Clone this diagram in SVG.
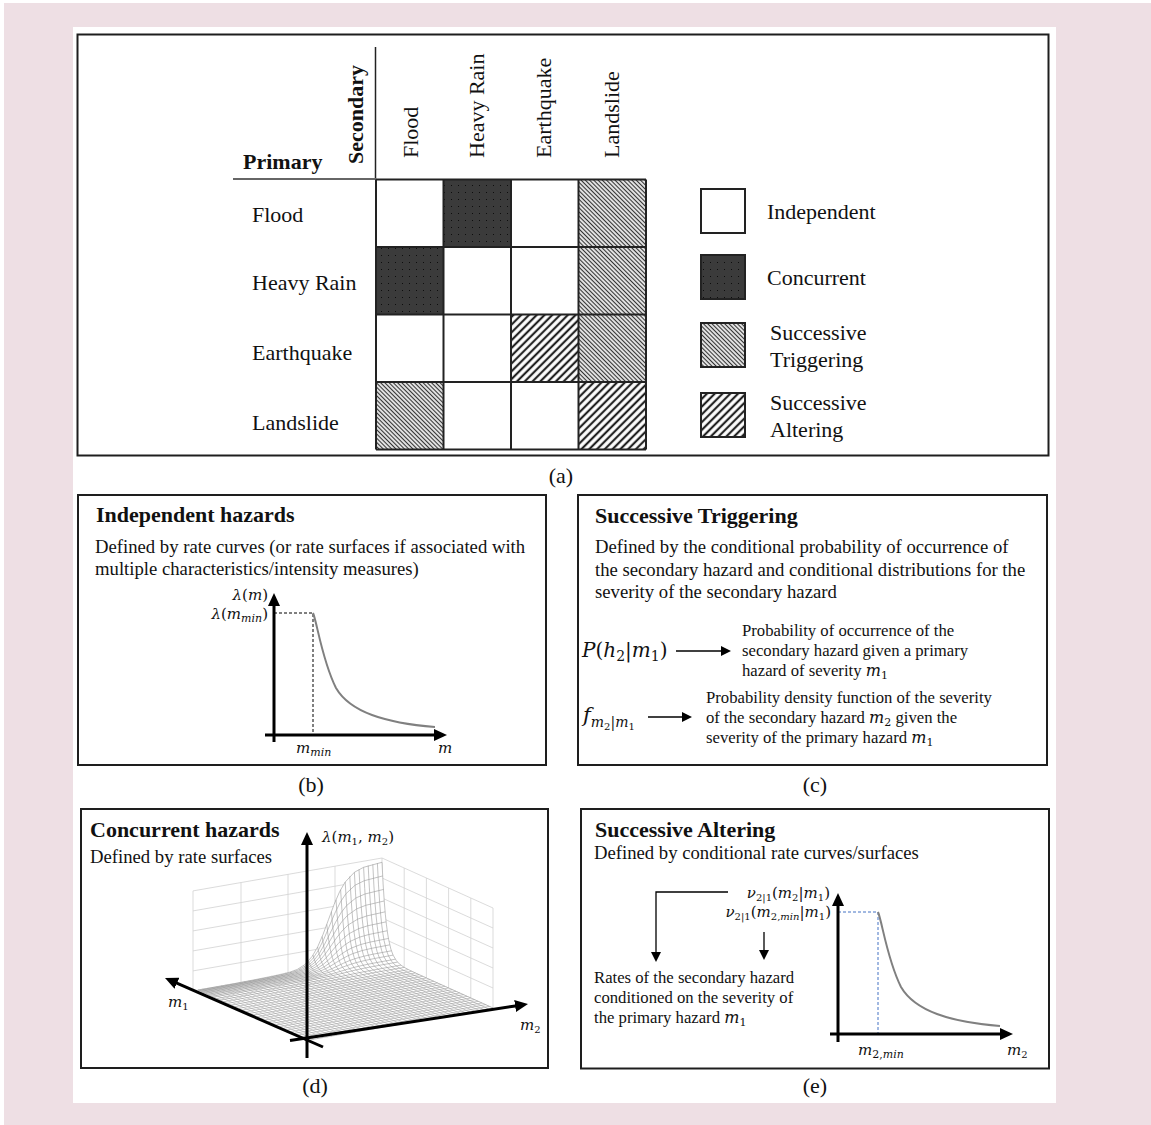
<svg xmlns="http://www.w3.org/2000/svg" width="1151" height="1125" viewBox="0 0 1151 1125">
<defs>
<style>
.t{font-family:"Liberation Serif","Times New Roman",serif;fill:#111}
.bd{font-weight:bold}
.s22{font-size:22px}
.s19{font-size:18.7px}
.s17{font-size:16.7px}
.m{font-family:"DejaVu Serif",serif;font-style:italic}
.up{font-style:normal}
.frame{fill:none;stroke:#1e1e1e;stroke-width:2}
.gl{stroke:#222;stroke-width:2;fill:none}
.ax{stroke:#000;stroke-width:3;fill:none}
.th{stroke:#000;stroke-width:1.3;fill:none}
.wall{stroke:#d2d2d2;stroke-width:0.8;fill:none}
.mesh{stroke:#9a9a9a;stroke-width:0.6;fill:none;vector-effect:non-scaling-stroke}
.fl{stroke:#a2a2a2;stroke-width:0.6;fill:none}
.crv{stroke:#808080;stroke-width:2;fill:none}
</style>
<pattern id="pCon" width="7" height="7" patternUnits="userSpaceOnUse"><rect width="7" height="7" fill="#3b3b3b"/><rect x="3" y="3" width="1" height="1" fill="#0d0d0d"/></pattern>
<pattern id="pTrig" width="3" height="3" patternUnits="userSpaceOnUse" patternTransform="rotate(-45)"><rect width="3" height="3" fill="#fff"/><line x1="1.5" y1="0" x2="1.5" y2="3" stroke="#333" stroke-width="1.3"/></pattern>
<pattern id="pAlt" width="5.5" height="5.5" patternUnits="userSpaceOnUse" patternTransform="rotate(45)"><rect width="5.5" height="5.5" fill="#fff"/><line x1="2.75" y1="0" x2="2.75" y2="5.5" stroke="#222" stroke-width="2.2"/></pattern>
<marker id="ah" markerUnits="userSpaceOnUse" markerWidth="13" markerHeight="12" refX="2" refY="6" orient="auto"><path d="M0,0 L13,6 L0,12 z" fill="#000"/></marker>
<marker id="sh" markerUnits="userSpaceOnUse" markerWidth="10" markerHeight="10" refX="1" refY="5" orient="auto"><path d="M0,0 L10,5 L0,10 z" fill="#000"/></marker>
<path id="fs" class="mesh" d="M0,99.7 L10,97.8 L15,94.3 L20,85.8 L23,76.9 L26,64.6 L29,50 L32,35.4 L35,23.1 L38,14.2 L42,7 L46,3.5 L50,2 L55,1.3 L60,0.9 L70,0.4 L80,0.1 L90,0 L100,0"/>
<path id="gt" class="mesh" d="M0,100 L1,77.9 L2,60.7 L3,47.2 L4,36.8 L5,28.7 L6,22.3 L8,13.5 L10,8.2 L13,3.9 L16,1.8 L20,0.7 L25,0.2 L30,0.05 L40,0 L100,0"/>
<path id="rc" class="crv" d="M313,613 C317,622 322,660 336,688 C350,712 385,723 435,727"/>
</defs>

<rect width="1151" height="1125" fill="#ffffff"/>
<rect x="4" y="3" width="1147" height="1122" fill="#eedfe4"/>
<rect x="73" y="27" width="983" height="1076" fill="#ffffff"/>

<!-- Panel (a) -->
<g id="panel-a">
  <rect class="frame" x="77.5" y="34.5" width="971" height="421"/>
  <line x1="375.5" y1="47" x2="375.5" y2="180" stroke="#222" stroke-width="1.5"/>
  <line x1="233" y1="179" x2="376" y2="179" stroke="#666" stroke-width="2"/>
  <text class="t bd s22" x="243" y="169">Primary</text>
  <text class="t bd s22" transform="translate(363,164) rotate(-90)">Secondary</text>
  <text class="t s22" transform="translate(418,158) rotate(-90)">Flood</text>
  <text class="t s22" transform="translate(484,158) rotate(-90)">Heavy Rain</text>
  <text class="t s22" transform="translate(551,158) rotate(-90)">Earthquake</text>
  <text class="t s22" transform="translate(619,158) rotate(-90)">Landslide</text>
  <text class="t s22" x="252" y="222">Flood</text>
  <text class="t s22" x="252" y="290">Heavy Rain</text>
  <text class="t s22" x="252" y="360">Earthquake</text>
  <text class="t s22" x="252" y="430">Landslide</text>
  <g id="matrix">
    <rect x="376" y="179.5" width="270" height="270" fill="#fff"/>
    <rect x="443.5" y="179.5" width="67.5" height="67.5" fill="url(#pCon)"/>
    <rect x="578.5" y="179.5" width="67.5" height="67.5" fill="url(#pTrig)"/>
    <rect x="376" y="247" width="67.5" height="67.5" fill="url(#pCon)"/>
    <rect x="578.5" y="247" width="67.5" height="67.5" fill="url(#pTrig)"/>
    <rect x="511" y="314.5" width="67.5" height="67.5" fill="url(#pAlt)"/>
    <rect x="578.5" y="314.5" width="67.5" height="67.5" fill="url(#pTrig)"/>
    <rect x="376" y="382" width="67.5" height="67.5" fill="url(#pTrig)"/>
    <rect x="578.5" y="382" width="67.5" height="67.5" fill="url(#pAlt)"/>
    <path class="gl" d="M376,179.5V449.5M443.5,179.5V449.5M511,179.5V449.5M578.5,179.5V449.5M646,179.5V449.5M376,179.5H646M376,247H646M376,314.5H646M376,382H646M376,449.5H646"/>
  </g>
  <g id="legend">
    <rect x="701" y="189" width="44" height="44" fill="#fff" stroke="#222" stroke-width="2"/>
    <rect x="701" y="255" width="44" height="44" fill="url(#pCon)" stroke="#222" stroke-width="2"/>
    <rect x="701" y="323" width="44" height="44" fill="url(#pTrig)" stroke="#222" stroke-width="2"/>
    <rect x="701" y="393" width="44" height="44" fill="url(#pAlt)" stroke="#222" stroke-width="2"/>
    <text class="t s22" x="767" y="219">Independent</text>
    <text class="t s22" x="767" y="285">Concurrent</text>
    <text class="t s22" x="770" y="340">Successive</text>
    <text class="t s22" x="770" y="367">Triggering</text>
    <text class="t s22" x="770" y="410">Successive</text>
    <text class="t s22" x="770" y="437">Altering</text>
  </g>
  <text class="t s22" x="561" y="483" text-anchor="middle">(a)</text>
</g>

<!-- Panel (b) -->
<g id="panel-b">
  <rect class="frame" x="78" y="495" width="468" height="270"/>
  <text class="t bd s22" x="96" y="522">Independent hazards</text>
  <text class="t s19" x="95" y="553">Defined by rate curves (or rate surfaces if associated with</text>
  <text class="t s19" x="95" y="575">multiple characteristics/intensity measures)</text>
  <path d="M274,613H313V735" fill="none" stroke="#000" stroke-width="1" stroke-dasharray="3,2"/>
  <use href="#rc"/>
  <line class="ax" x1="274" y1="742" x2="274" y2="604" marker-end="url(#ah)"/>
  <line class="ax" x1="265" y1="735" x2="436" y2="735" marker-end="url(#ah)"/>
  <text class="t m" font-size="15" x="268" y="600" text-anchor="end">λ<tspan class="up">(</tspan>m<tspan class="up">)</tspan></text>
  <text class="t m" font-size="15" x="268" y="619" text-anchor="end">λ<tspan class="up">(</tspan>m<tspan font-size="11" dy="3">min</tspan><tspan class="up" dy="-3">)</tspan></text>
  <text class="t m" font-size="15" x="296" y="753">m<tspan font-size="11" dy="3">min</tspan></text>
  <text class="t m" font-size="15" x="438" y="753">m</text>
  <text class="t s22" x="311" y="792" text-anchor="middle">(b)</text>
</g>

<!-- Panel (c) -->
<g id="panel-c">
  <rect class="frame" x="578" y="495" width="469" height="270"/>
  <text class="t bd s22" x="595" y="523">Successive Triggering</text>
  <text class="t s19" x="595" y="553">Defined by the conditional probability of occurrence of</text>
  <text class="t s19" x="595" y="576">the secondary hazard and conditional distributions for the</text>
  <text class="t s19" x="595" y="598">severity of the secondary hazard</text>
  <text class="t m" font-size="20" x="582" y="657">P<tspan class="up">(</tspan>h<tspan class="up" font-size="14" dy="4">2</tspan><tspan class="up" dy="-4">|</tspan>m<tspan class="up" font-size="14" dy="4">1</tspan><tspan class="up" dy="-4">)</tspan></text>
  <text class="t m" font-size="21" x="583" y="722">f<tspan font-size="14" dy="5">m</tspan><tspan class="up" font-size="10" dy="3">2</tspan><tspan class="up" font-size="14" dy="-3">|</tspan><tspan font-size="14">m</tspan><tspan class="up" font-size="10" dy="3">1</tspan></text>
  <text class="t s17" x="742" y="636">Probability of occurrence of the</text>
  <text class="t s17" x="742" y="656">secondary hazard given a primary</text>
  <text class="t s17" x="742" y="676">hazard of severity <tspan class="m" font-size="16">m</tspan><tspan class="m up" font-size="11" dy="3">1</tspan></text>
  <text class="t s17" x="706" y="703">Probability density function of the severity</text>
  <text class="t s17" x="706" y="723">of the secondary hazard <tspan class="m" font-size="16">m</tspan><tspan class="m up" font-size="11" dy="3">2</tspan><tspan dy="-3"> given the</tspan></text>
  <text class="t s17" x="706" y="743">severity of the primary hazard <tspan class="m" font-size="16">m</tspan><tspan class="m up" font-size="11" dy="3">1</tspan></text>
  <text class="t s22" x="815" y="792" text-anchor="middle">(c)</text>
</g>

<!-- Panel (d) -->
<g id="panel-d">
  <rect class="frame" x="81" y="809" width="467" height="259"/>
  <text class="t bd s22" x="90" y="837">Concurrent hazards</text>
  <text class="t s19" x="90" y="863">Defined by rate surfaces</text>
  <g id="walls" class="wall">
    <path d="M382,958V858M335,966.2V866.2M288,974.3V874.3M241,982.5V882.5M193,990.9V890.9M193,990.9L382,958M193,970.9L382,938M193,950.9L382,918M193,930.9L382,898M193,910.9L382,878M193,890.9L382,858"/>
    <path d="M404.2,968V868M426.4,978V878M448.6,988V888M470.8,998V898M493,1008V908M382,958L493,1008M382,938L493,988M382,918L493,968M382,898L493,948M382,878L493,928M382,858L493,908"/>
  </g>
  <path fill="#fff" d="M198,990 L216.4,986.8 L234.8,983.5 L253.2,980 L271.6,976.3 L280.8,974.4 L290,972.1 L297.4,969.3 L304.7,964.7 L312.1,956.6 L317.6,947 L323.1,934.2 L328.6,919.3 L334.2,904.3 L339.7,891.6 L345.2,882 L354.4,872.3 L363.6,867.3 L382,862.3 L383.1,883.7 L384.2,900.7 L385.3,914.2 L386.4,924.7 L387.6,932.9 L388.7,939.6 L390.9,949 L393.1,955.1 L396.4,960.8 L399.8,964.3 L404.2,967.4 L415.3,973 L493,1008 L309,1040 Z"/>
  <g id="surface">
    <path class="fl" d="M267,978l111,50M262.4,978.8l111,50M257.8,979.6l111,50M253.2,980.4l111,50M248.6,981.2l111,50M244,982l111,50M239.4,982.8l111,50M234.8,983.6l111,50M230.2,984.4l111,50M225.6,985.2l111,50M221,986l111,50M216.4,986.8l111,50M211.8,987.6l111,50M207.2,988.4l111,50M202.6,989.2l111,50M198,990l111,50"/>
    <path class="fl" d="M407.9,969.67l-184,32M411.6,971.33l-184,32M415.3,973l-184,32M419,974.67l-184,32M422.7,976.33l-184,32M426.4,978l-184,32M430.1,979.67l-184,32M433.8,981.33l-184,32M437.5,983l-184,32M441.2,984.67l-184,32M444.9,986.33l-184,32M448.6,988l-184,32M452.3,989.67l-184,32M456,991.33l-184,32M459.7,993l-184,32M463.4,994.67l-184,32M467.1,996.33l-184,32M470.8,998l-184,32M474.5,999.67l-184,32M478.2,1001.33l-184,32M481.9,1003l-184,32M485.6,1004.67l-184,32M489.3,1006.33l-184,32M493,1008l-184,32"/>
    <use href="#gt" transform="matrix(1.11 0.5 0 -0.957 382 958)"/>
    <use href="#gt" transform="matrix(1.11 0.5 0 -0.955 377.4 958.8)"/>
    <use href="#gt" transform="matrix(1.11 0.5 0 -0.952 372.8 959.6)"/>
    <use href="#gt" transform="matrix(1.11 0.5 0 -0.948 368.2 960.4)"/>
    <use href="#gt" transform="matrix(1.11 0.5 0 -0.939 363.6 961.2)"/>
    <use href="#gt" transform="matrix(1.11 0.5 0 -0.925 359 962)"/>
    <use href="#gt" transform="matrix(1.11 0.5 0 -0.905 354.4 962.8)"/>
    <use href="#gt" transform="matrix(1.11 0.5 0 -0.873 349.8 963.6)"/>
    <use href="#gt" transform="matrix(1.11 0.5 0 -0.824 345.2 964.4)"/>
    <use href="#gt" transform="matrix(1.11 0.5 0 -0.755 340.6 965.2)"/>
    <use href="#gt" transform="matrix(1.11 0.5 0 -0.662 336 966)"/>
    <use href="#gt" transform="matrix(1.11 0.5 0 -0.551 331.4 966.8)"/>
    <use href="#gt" transform="matrix(1.11 0.5 0 -0.432 326.8 967.6)"/>
    <use href="#gt" transform="matrix(1.11 0.5 0 -0.319 322.2 968.4)"/>
    <use href="#gt" transform="matrix(1.11 0.5 0 -0.222 317.6 969.2)"/>
    <use href="#gt" transform="matrix(1.11 0.5 0 -0.149 313 970)"/>
    <use href="#gt" transform="matrix(1.11 0.5 0 -0.096 308.4 970.8)"/>
    <use href="#gt" transform="matrix(1.11 0.5 0 -0.06 303.8 971.6)"/>
    <use href="#gt" transform="matrix(1.11 0.5 0 -0.037 299.2 972.4)"/>
    <use href="#gt" transform="matrix(1.11 0.5 0 -0.023 294.6 973.2)"/>
    <use href="#gt" transform="matrix(1.11 0.5 0 -0.019 290 974)"/>
    <use href="#gt" transform="matrix(1.11 0.5 0 -0.015 285.4 974.8)"/>
    <use href="#gt" transform="matrix(1.11 0.5 0 -0.012 280.8 975.6)"/>
    <use href="#gt" transform="matrix(1.11 0.5 0 -0.011 276.2 976.4)"/>
    <use href="#gt" transform="matrix(1.11 0.5 0 -0.009 271.6 977.2)"/>
    <use href="#fs" transform="matrix(-1.84 0.32 0 -0.96 382 958)"/>
    <use href="#fs" transform="matrix(-1.84 0.32 0 -0.826 382.67 958.3)"/>
    <use href="#fs" transform="matrix(-1.84 0.32 0 -0.694 383.44 958.65)"/>
    <use href="#fs" transform="matrix(-1.84 0.32 0 -0.582 384.22 959)"/>
    <use href="#fs" transform="matrix(-1.84 0.32 0 -0.477 385.11 959.4)"/>
    <use href="#fs" transform="matrix(-1.84 0.32 0 -0.381 386.11 959.85)"/>
    <use href="#fs" transform="matrix(-1.84 0.32 0 -0.297 387.22 960.35)"/>
    <use href="#fs" transform="matrix(-1.84 0.32 0 -0.225 388.44 960.9)"/>
    <use href="#fs" transform="matrix(-1.84 0.32 0 -0.167 389.77 961.5)"/>
    <use href="#fs" transform="matrix(-1.84 0.32 0 -0.115 391.44 962.25)"/>
    <use href="#fs" transform="matrix(-1.84 0.32 0 -0.079 393.1 963)"/>
    <use href="#fs" transform="matrix(-1.84 0.32 0 -0.048 395.32 964)"/>
    <use href="#fs" transform="matrix(-1.84 0.32 0 -0.029 397.54 965)"/>
    <use href="#fs" transform="matrix(-1.84 0.32 0 -0.0137 400.87 966.5)"/>
    <use href="#fs" transform="matrix(-1.84 0.32 0 -0.0065 404.2 968)"/>
  </g>
  <line class="ax" x1="307" y1="1058" x2="307" y2="843" marker-end="url(#ah)"/>
  <line class="ax" x1="323" y1="1047" x2="175.1" y2="982.4" marker-end="url(#ah)"/>
  <line class="ax" x1="290" y1="1040.6" x2="517.1" y2="1005.7" marker-end="url(#ah)"/>
  <text class="t m" font-size="15" x="322" y="842">λ<tspan class="up">(</tspan>m<tspan class="up" font-size="10" dy="3">1</tspan><tspan class="up" dy="-3">, </tspan>m<tspan class="up" font-size="10" dy="3">2</tspan><tspan class="up" dy="-3">)</tspan></text>
  <text class="t m" font-size="15" x="168" y="1007">m<tspan class="up" font-size="10" dy="3">1</tspan></text>
  <text class="t m" font-size="15" x="520" y="1030">m<tspan class="up" font-size="10" dy="3">2</tspan></text>
  <text class="t s22" x="315" y="1093" text-anchor="middle">(d)</text>
</g>

<!-- Panel (e) -->
<g id="panel-e">
  <rect class="frame" x="581" y="809" width="468" height="259.5"/>
  <text class="t bd s22" x="595" y="837">Successive Altering</text>
  <text class="t s19" x="594" y="859">Defined by conditional rate curves/surfaces</text>
  <text class="t m" font-size="15" x="830" y="898" text-anchor="end">ν<tspan class="up" font-size="10" dy="3">2|1</tspan><tspan class="up" dy="-3">(</tspan>m<tspan class="up" font-size="10" dy="3">2</tspan><tspan class="up" dy="-3">|</tspan>m<tspan class="up" font-size="10" dy="3">1</tspan><tspan class="up" dy="-3">)</tspan></text>
  <text class="t m" font-size="15" x="831" y="917" text-anchor="end">ν<tspan class="up" font-size="10" dy="3">2|1</tspan><tspan class="up" dy="-3">(</tspan>m<tspan font-size="10" dy="3"><tspan class="up">2,</tspan>min</tspan><tspan class="up" dy="-3">|</tspan>m<tspan class="up" font-size="10" dy="3">1</tspan><tspan class="up" dy="-3">)</tspan></text>
  <text class="t s17" x="594" y="983">Rates of the secondary hazard</text>
  <text class="t s17" x="594" y="1003">conditioned on the severity of</text>
  <text class="t s17" x="594" y="1023">the primary hazard <tspan class="m" font-size="16">m</tspan><tspan class="m up" font-size="11" dy="3">1</tspan></text>
  <path d="M838,912H878V1034" fill="none" stroke="#4472c4" stroke-width="1" stroke-dasharray="3,2"/>
  <use href="#rc" transform="translate(565,299)"/>
  <line class="ax" x1="838" y1="1042" x2="838" y2="904" marker-end="url(#ah)"/>
  <line class="ax" x1="830" y1="1034" x2="1002" y2="1034" marker-end="url(#ah)"/>
  <text class="t m" font-size="15" x="858" y="1055">m<tspan font-size="11" dy="3"><tspan class="up">2,</tspan>min</tspan></text>
  <text class="t m" font-size="15" x="1007" y="1055">m<tspan class="up" font-size="10" dy="3">2</tspan></text>
  <text class="t s22" x="815" y="1093" text-anchor="middle">(e)</text>
</g>

<g id="connectors">
  <line class="th" x1="676" y1="651" x2="722" y2="651" marker-end="url(#sh)"/>
  <line class="th" x1="648" y1="717" x2="683" y2="717" marker-end="url(#sh)"/>
  <path class="th" d="M728,892H656V953" marker-end="url(#sh)"/>
  <line class="th" x1="764" y1="932" x2="764" y2="951" marker-end="url(#sh)"/>
</g>
</svg>
